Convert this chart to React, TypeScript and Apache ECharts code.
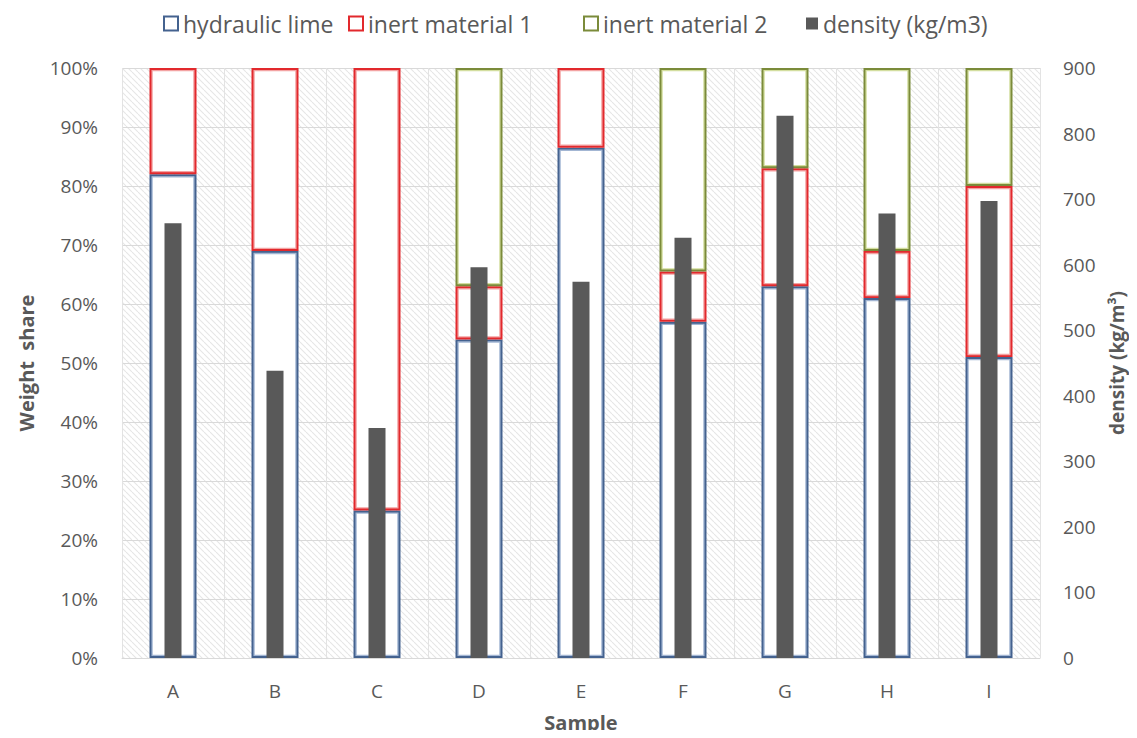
import React, { useEffect, useRef } from "react";
import * as echarts from "echarts";

// Sample composition (weight share, %) and bulk density (kg/m3)
const samples = ["A", "B", "C", "D", "E", "F", "G", "H", "I"];
const hydraulicLime = [82, 69, 25, 54, 86.5, 57, 63, 61, 51];
const inertMaterial1 = [18, 31, 75, 9, 13.5, 8.5, 20, 8, 29];
const inertMaterial2 = [null, null, null, 37, null, 34.5, 17, 31, 20];
const density = [663, 438, 351, 596, 574, 641, 827, 678, 697];

const seriesNames = ["hydraulic lime", "inert material 1", "inert material 2", "density (kg/m3)"];

const FONT = "'Open Sans', 'Noto Sans', sans-serif";
const TEXT = "#595959";
const BAR_W = 47;

// outer (dark) and inner (light) outline colours of each component
const OUTER = ["#44628f", "#e2292d", "#7b8b3a"];
const INNER = ["#a3b6d3", "#f3a3a3", "#d3de9f"];

// Small tile of light diagonal hatching for the plot background
function makeHatch(): HTMLCanvasElement {
  const c = document.createElement("canvas");
  c.width = 6;
  c.height = 6;
  const ctx = c.getContext("2d")!;
  ctx.fillStyle = "#ffffff";
  ctx.fillRect(0, 0, 6, 6);
  ctx.strokeStyle = "#e6e6e6";
  ctx.lineWidth = 1.1;
  for (const k of [-6, 0, 6]) {
    ctx.beginPath();
    ctx.moveTo(k, 0);
    ctx.lineTo(k + 6, 6);
    ctx.stroke();
  }
  return c;
}

// [category index, lower share, upper share, component] for the inner outlines
function innerSegments() {
  const out: [number, number, number, number][] = [];
  samples.forEach((_, i) => {
    let base = 0;
    [hydraulicLime, inertMaterial1, inertMaterial2].forEach((arr, k) => {
      const v = arr[i];
      if (v != null && v > 0) {
        out.push([i, base, base + v, k]);
        base += v;
      }
    });
  });
  return out;
}

export default function App() {
  const ref = useRef<HTMLDivElement>(null);

  useEffect(() => {
    if (!ref.current) return;
    const chart = echarts.init(ref.current, undefined, { renderer: "svg" });

    const outlined = (name: string, data: (number | null)[], k: number) => ({
      name,
      type: "bar",
      stack: "share",
      xAxisIndex: 0,
      yAxisIndex: 0,
      barWidth: BAR_W,
      data,
      itemStyle: { color: "#ffffff", borderColor: OUTER[k], borderWidth: 2.5 },
      z: 2,
    });

    // one legend block per entry, laid out along the top
    const legendLefts = [163, 348, 583, 806];
    const legends = seriesNames.map((name, i) => ({
      top: 12,
      left: legendLefts[i],
      padding: 0,
      itemWidth: i === 3 ? 12 : 14,
      itemHeight: i === 3 ? 12 : 14,
      itemGap: 0,
      icon: "rect",
      textStyle: { fontFamily: FONT, fontSize: 23, color: TEXT },
      data: [name],
    }));

    chart.setOption({
      animation: false,
      textStyle: { fontFamily: FONT },
      grid: {
        left: 122,
        right: 97,
        top: 68,
        bottom: 80,
        outerBoundsMode: "none",
        containLabel: false,
        show: true,
        borderWidth: 0,
        backgroundColor: { image: makeHatch(), repeat: "repeat", imageWidth: 6, imageHeight: 6 } as any,
      },
      legend: legends,
      xAxis: [
        {
          type: "category",
          data: samples,
          name: "Sample",
          nameLocation: "middle",
          nameGap: 54,
          nameTextStyle: { fontFamily: FONT, fontSize: 20, fontWeight: "bold", color: TEXT },
          axisLine: { show: true, lineStyle: { color: "#d9d9d9" } },
          axisTick: { show: false },
          axisLabel: { fontFamily: FONT, fontSize: 19, color: TEXT, margin: 23 },
          splitLine: { show: true, lineStyle: { color: "#e3e3e3", width: 1 } },
        },
        {
          type: "category",
          data: samples,
          show: false,
        },
      ],
      yAxis: [
        {
          type: "value",
          min: 0,
          max: 100,
          interval: 10,
          name: "Weight  share",
          nameLocation: "middle",
          nameGap: 86,
          nameTextStyle: { fontFamily: FONT, fontSize: 20, fontWeight: "bold", color: TEXT },
          axisLine: { show: false },
          axisTick: { show: false },
          axisLabel: { formatter: "{value}%", fontFamily: FONT, fontSize: 19, color: TEXT, margin: 24 },
          splitLine: { show: true, lineStyle: { color: "#d9d9d9", width: 1 } },
        },
        {
          type: "value",
          position: "right",
          min: 0,
          max: 900,
          interval: 100,
          name: "density (kg/m³)",
          nameLocation: "middle",
          nameGap: 67,
          nameTextStyle: { fontFamily: FONT, fontSize: 19, fontWeight: "bold", color: TEXT },
          axisLine: { show: false },
          axisTick: { show: false },
          axisLabel: { fontFamily: FONT, fontSize: 19, color: TEXT, margin: 23 },
          splitLine: { show: false },
        },
      ],
      series: [
        outlined(seriesNames[0], hydraulicLime, 0),
        outlined(seriesNames[1], inertMaterial1, 1),
        outlined(seriesNames[2], inertMaterial2, 2),
        {
          // lighter inner line that gives each box its double outline
          type: "custom",
          xAxisIndex: 0,
          yAxisIndex: 0,
          silent: true,
          z: 3,
          data: innerSegments(),
          encode: { x: 0, y: [1, 2] },
          renderItem: (_params: any, api: any) => {
            const i = api.value(0);
            const lo = api.coord([i, api.value(1)]);
            const hi = api.coord([i, api.value(2)]);
            const k = api.value(3);
            const inset = 2.6;
            const half = BAR_W / 2 - inset;
            return {
              type: "rect",
              shape: {
                x: lo[0] - half,
                y: hi[1] + inset,
                width: half * 2,
                height: Math.max(0, lo[1] - hi[1] - inset * 2),
              },
              style: { fill: "none", stroke: INNER[k], lineWidth: 1.3 },
            };
          },
        },
        {
          name: seriesNames[3],
          type: "bar",
          xAxisIndex: 1,
          yAxisIndex: 1,
          barWidth: 17,
          data: density,
          itemStyle: { color: "#595959" },
          z: 5,
        },
      ],
    });

    return () => chart.dispose();
  }, []);

  return <div ref={ref} style={{ width: 1137, height: 738, margin: -8 }} />;
}
